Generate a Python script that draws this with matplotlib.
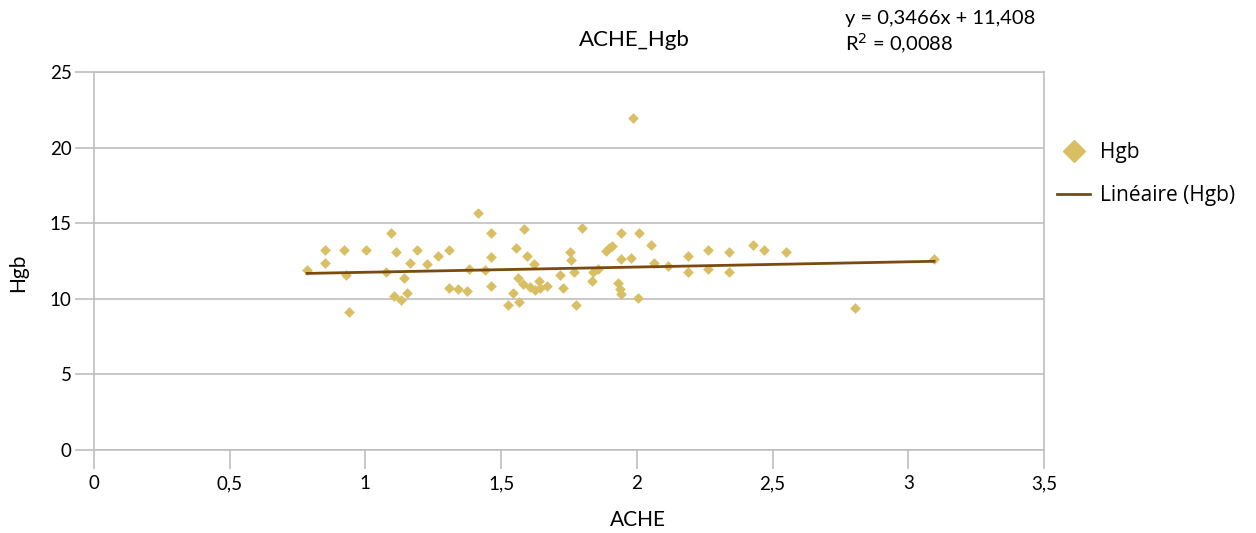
import numpy as np
import matplotlib
matplotlib.use('Agg')
import matplotlib.pyplot as plt
from matplotlib.lines import Line2D

plt.rcParams['font.family'] = ['Lato', 'DejaVu Sans']

# ACHE values (x) and Hgb values (y)
ache = [0.785, 0.851, 0.851, 0.921, 0.928, 0.94, 1.002, 1.076, 1.094, 1.113,
        1.105, 1.131, 1.142, 1.153, 1.164, 1.19, 1.227, 1.268, 1.308, 1.308,
        1.341, 1.374, 1.382, 1.415, 1.44, 1.463, 1.463, 1.463, 1.525, 1.544,
        1.555, 1.562, 1.566, 1.58, 1.584, 1.595, 1.606, 1.625, 1.62, 1.64,
        1.643, 1.67, 1.717, 1.728, 1.754, 1.757, 1.769, 1.776, 1.798, 1.835,
        1.839, 1.857, 1.887, 1.898, 1.909, 1.931, 1.938, 1.942, 1.942, 1.942,
        1.979, 1.986, 2.008, 2.004, 2.052, 2.063, 2.115, 2.188, 2.188, 2.262,
        2.262, 2.34, 2.34, 2.428, 2.469, 2.55, 2.804, 3.095]
hgb = [11.9, 13.2, 12.4, 13.2, 11.6, 9.1, 13.2, 11.8, 14.35, 13.1,
       10.2, 9.9, 11.4, 10.4, 12.4, 13.2, 12.3, 12.8, 13.2, 10.7,
       10.65, 10.5, 12.0, 15.7, 11.9, 14.35, 12.75, 10.85, 9.6, 10.4,
       13.35, 11.4, 9.8, 11.0, 14.6, 12.8, 10.8, 10.6, 12.3, 11.2,
       10.7, 10.85, 11.6, 10.7, 13.1, 12.55, 11.8, 9.6, 14.7, 11.2,
       11.8, 12.0, 13.15, 13.35, 13.5, 11.05, 10.65, 10.3, 14.35, 12.6,
       12.7, 21.95, 14.35, 10.05, 13.55, 12.4, 12.15, 12.8, 11.8, 13.2,
       12.0, 13.1, 11.8, 13.55, 13.2, 13.1, 9.4, 12.6]

slope = 0.3466
intercept = 11.408
r2 = 0.0088

x_ticks = [0, 0.5, 1, 1.5, 2, 2.5, 3, 3.5]
x_labels = ['0', '0,5', '1', '1,5', '2', '2,5', '3', '3,5']
y_ticks = [0, 5, 10, 15, 20, 25]

point_color = '#D9BF64'
line_color = '#7B4A0E'
grid_color = '#BFBFBF'

fig = plt.figure(figsize=(12.56, 5.33), dpi=100)
ax = fig.add_axes([0.0748, 0.1557, 0.7564, 0.7092])

ax.scatter(ache, hgb, marker='D', s=30, color=point_color, linewidths=0, zorder=3)

xl = np.array([min(ache), max(ache)])
ax.plot(xl, slope * xl + intercept, color=line_color, lw=2, zorder=4)

ax.set_xlim(0, 3.5)
ax.set_ylim(0, 25)
ax.set_xticks(x_ticks)
ax.set_xticklabels(x_labels)
ax.set_yticks(y_ticks)
ax.yaxis.grid(True, color=grid_color, lw=1.2)
ax.set_axisbelow(True)
for sp in ax.spines.values():
    sp.set_color(grid_color)
    sp.set_linewidth(1.2)
ax.tick_params(axis='both', direction='out', length=14, width=1.2,
               color=grid_color, labelsize=13.5, labelcolor='black')
ax.tick_params(axis='x', pad=4)
ax.tick_params(axis='y', pad=2)

ax.set_xlabel('ACHE', fontsize=15)
ax.set_ylabel('Hgb', fontsize=15)
ax.xaxis.set_label_coords(0.573, -0.16)
ax.yaxis.set_label_coords(-0.069, 0.47)

fig.text(0.505, 0.925, 'ACHE_Hgb', fontsize=16, ha='center', va='center')
fig.text(0.673, 0.965, 'y = 0,3466x + 11,408', fontsize=14.5, ha='left', va='center')
fig.text(0.673, 0.918, 'R$^2$ = 0,0088', fontsize=14.5, ha='left', va='center')

handles = [
    Line2D([], [], marker='D', ls='none', color=point_color, markersize=11),
    Line2D([], [], color=line_color, lw=2),
]
fig.legend(handles, ['Hgb', 'Linéaire (Hgb)'], loc='upper left',
           bbox_to_anchor=(0.8265, 0.768), frameon=False, handlelength=1.6,
           handletextpad=0.45, labelspacing=1.05,
           prop={'family': 'Open Sans', 'size': 15})

fig.savefig('out.png', dpi=100)
